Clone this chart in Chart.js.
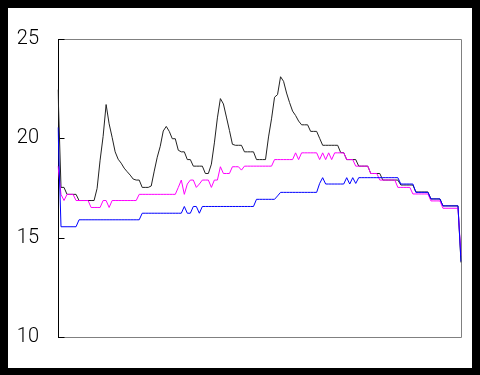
<!DOCTYPE html>
<html><head><meta charset="utf-8">
<script src="https://cdn.jsdelivr.net/npm/chart.js@4"></script>
<style>
html,body{margin:0;padding:0;background:#000;width:480px;height:375px;overflow:hidden}
#wrap{position:absolute;left:8px;top:8px;width:464px;height:360px;background:#fff}
canvas{display:block}
</style></head><body>
<div id="wrap"><canvas id="c" width="464" height="360"></canvas></div>
<script>
const yTicks = [10, 15, 20, 25];
const blackSeries = [
22.45,17.53,17.53,17.18,17.18,17.18,17.18,16.87,16.87,16.87,
16.87,16.87,16.87,17.48,18.9,20.1,21.7,20.73,20.05,19.32,
18.95,18.75,18.5,18.32,18.15,17.95,17.9,17.9,17.53,17.53,
17.53,17.6,18.35,19.05,19.6,20.37,20.6,20.35,19.98,19.98,
19.4,19.32,19.32,18.93,18.93,18.6,18.6,18.6,18.6,18.23,
18.23,18.7,19.77,21.03,22.0,21.73,21.07,20.4,19.7,19.65,
19.65,19.65,19.32,19.32,19.32,19.32,18.93,18.93,18.93,18.93,
20.07,20.98,22.07,22.2,23.1,22.87,22.28,21.8,21.37,21.15,
20.87,20.68,20.68,20.68,20.35,20.35,20.35,20.0,19.65,19.65,
19.65,19.65,19.65,19.65,19.28,19.28,18.93,18.93,18.93,18.93,
18.6,18.6,18.6,18.6,18.23,18.23,18.23,18.23,17.9,17.9,
17.9,17.9,17.9,17.9,17.65,17.65,17.65,17.65,17.65,17.3,
17.3,17.3,17.3,17.3,16.95,16.95,16.95,16.95,16.6,16.6,
16.6,16.6,16.6,16.6,13.75
];
const magentaSeries = [
18.6,17.18,16.87,17.18,17.18,17.18,16.87,16.87,16.87,16.87,
16.87,16.52,16.52,16.52,16.52,16.87,16.87,16.52,16.87,16.87,
16.87,16.87,16.87,16.87,16.87,16.87,16.87,17.18,17.18,17.18,
17.18,17.18,17.18,17.18,17.18,17.18,17.18,17.18,17.18,17.18,
17.53,17.9,17.18,17.7,17.9,17.9,17.53,17.7,17.9,17.9,
17.9,17.53,17.9,17.9,18.57,18.23,18.23,18.23,18.57,18.57,
18.57,18.4,18.6,18.6,18.6,18.6,18.6,18.6,18.6,18.6,
18.6,18.6,18.93,18.93,18.93,18.93,18.93,18.93,18.93,19.27,
18.93,19.27,19.27,19.27,19.27,19.27,19.27,18.93,19.27,18.93,
19.27,18.93,19.27,19.27,19.27,19.27,18.93,18.93,18.93,18.6,
18.6,18.6,18.6,18.6,18.23,18.23,18.23,17.9,17.9,17.9,
17.9,17.9,17.9,17.53,17.53,17.53,17.53,17.53,17.2,17.2,
17.2,17.2,17.2,17.2,16.85,16.85,16.85,16.85,16.48,16.48,
16.48,16.48,16.48,16.48,14.1
];
const blueSeries = [
20.55,15.55,15.55,15.55,15.55,15.55,15.55,15.9,15.9,15.9,
15.9,15.9,15.9,15.9,15.9,15.9,15.9,15.9,15.9,15.9,
15.9,15.9,15.9,15.9,15.9,15.9,15.9,15.9,16.23,16.23,
16.23,16.23,16.23,16.23,16.23,16.23,16.23,16.23,16.23,16.23,
16.23,16.23,16.57,16.23,16.23,16.57,16.57,16.23,16.57,16.57,
16.57,16.57,16.57,16.57,16.57,16.57,16.57,16.57,16.57,16.57,
16.57,16.57,16.57,16.57,16.57,16.57,16.93,16.93,16.93,16.93,
16.93,16.93,16.93,17.1,17.28,17.28,17.28,17.28,17.28,17.28,
17.28,17.28,17.28,17.28,17.28,17.28,17.28,17.73,18.02,17.7,
17.7,17.7,17.7,17.7,17.7,17.7,18.02,17.7,18.02,17.73,
18.02,18.02,18.02,18.02,18.02,18.02,18.02,18.02,18.02,18.02,
18.02,18.02,18.02,18.02,17.7,17.7,17.7,17.7,17.7,17.28,
17.28,17.28,17.28,17.28,16.95,16.95,16.95,16.95,16.6,16.6,
16.6,16.6,16.6,16.6,13.8
];
const xLabels = blackSeries.map((_, i) => String(i));

const frame = {
  id: 'frame',
  beforeDatasetsDraw(chart) {
    const {ctx, chartArea: a} = chart;
    const y = chart.scales.y;
    ctx.save();
    ctx.lineWidth = 1;
    ctx.strokeStyle = '#808080';
    ctx.beginPath();
    ctx.moveTo(a.left, Math.round(a.top) + 0.5);
    ctx.lineTo(Math.round(a.right) + 0.5, Math.round(a.top) + 0.5);
    ctx.lineTo(Math.round(a.right) + 0.5, Math.round(a.bottom) + 0.5);
    ctx.lineTo(a.left, Math.round(a.bottom) + 0.5);
    ctx.stroke();
    ctx.strokeStyle = '#000';
    ctx.beginPath();
    const lx = Math.round(a.left) + 0.5;
    ctx.moveTo(lx, Math.round(a.top));
    ctx.lineTo(lx, Math.round(a.bottom) + 1);
    yTicks.forEach(v => {
      const p = Math.round(y.getPixelForValue(v)) + 0.5;
      ctx.moveTo(lx, p);
      ctx.lineTo(lx + 6, p);
    });
    ctx.stroke();
    ctx.restore();
  }
};

new Chart(document.getElementById('c'), {
  type: 'line',
  data: {
    labels: xLabels,
    datasets: [
      {data: blueSeries, borderColor: '#0000ff', borderWidth: 1, pointRadius: 0, tension: 0, order: 1},
      {data: magentaSeries, borderColor: '#ff00ff', borderWidth: 1, pointRadius: 0, tension: 0, order: 2},
      {data: blackSeries, borderColor: '#222222', borderWidth: 1, pointRadius: 0, tension: 0, order: 3}
    ]
  },
  options: {
    responsive: false,
    animation: false,
    devicePixelRatio: 1,
    layout: {padding: {left: 0, top: 30, right: 11, bottom: 30}},
    plugins: {legend: {display: false}, tooltip: {enabled: false}},
    scales: {
      x: {display: false, offset: false},
      y: {
        min: 10, max: 25,
        afterFit(s) { s.width = 50; },
        afterBuildTicks(s) { s.ticks = yTicks.map(v => ({value: v})); },
        grid: {display: false, drawTicks: false},
        border: {display: false},
        ticks: {
          color: '#000', padding: 19,
          font: {family: "Roboto, 'Liberation Sans', sans-serif", size: 20, weight: 300}
        }
      }
    }
  },
  plugins: [frame]
});
</script>
</body></html>
